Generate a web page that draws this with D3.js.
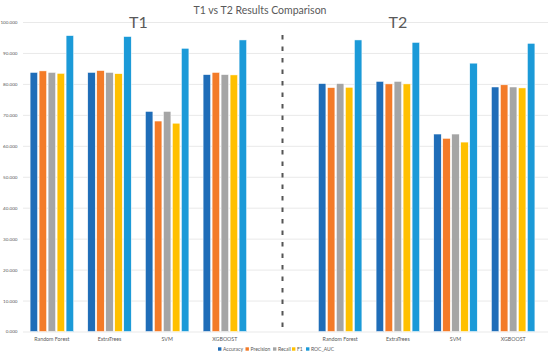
<!DOCTYPE html>
<html lang="en">
<head>
  <meta charset="UTF-8">
  <title>T1 vs T2 Results Comparison</title>
  <style>
  body { margin: 0; background: #fff; }
  text { font-family: Lato, "Open Sans", sans-serif; fill: #595959; }
  .grid line { stroke: #e9e9e9; stroke-width: 1px; }
</style>
</head>
<body>
  <script src="https://d3js.org/d3.v7.min.js"></script>
  <script>
categories = ["Random Forest", "ExtraTrees", "SVM", "XGBOOST"]
metrics = ["Accuracy", "Precision", "Recall", "F1", "ROC_AUC"]
colors = ["#1f6db8", "#f37b28", "#a5a5a5", "#ffc000", "#1b9ad8"]
yTicks = [0, 10, 20, 30, 40, 50, 60, 70, 80, 90, 100]

// T1 values, one array per metric (order of categories)
t1Accuracy  = [83.7, 83.7, 71.1, 83.0]
t1Precision = [84.2, 84.3, 68.0, 83.7]
t1Recall    = [83.7, 83.7, 71.1, 83.0]
t1F1        = [83.4, 83.3, 67.3, 82.9]
t1Roc       = [95.6, 95.3, 91.5, 94.2]

// T2 values
t2Accuracy  = [80.1, 80.8, 63.8, 79.0]
t2Precision = [78.8, 80.0, 62.4, 79.7]
t2Recall    = [80.1, 80.8, 63.8, 79.0]
t2F1        = [78.9, 80.0, 61.2, 78.7]
t2Roc       = [94.2, 93.4, 86.7, 93.1]

width = 550
height = 358
margin = ({top: 22, right: 8, bottom: 26.5, left: 23})

t1 = [t1Accuracy, t1Precision, t1Recall, t1F1, t1Roc]
t2 = [t2Accuracy, t2Precision, t2Recall, t2F1, t2Roc]

// 9 slots: 4 T1 groups, an empty slot, 4 T2 groups
slots = [...categories.map(c => "T1|" + c), "gap", ...categories.map(c => "T2|" + c)]
rows = []
categories.forEach((c, i) => {
  metrics.forEach((m, j) => {
    rows.push({slot: "T1|" + c, metric: m, value: t1[j][i]})
    rows.push({slot: "T2|" + c, metric: m, value: t2[j][i]})
  })
})

x = d3.scaleBand()
  .domain(slots)
  .range([margin.left, 542])
  .padding(0)

xInner = d3.scaleBand()
  .domain(metrics)
  .range([7.1, x.bandwidth() - 7.1])
  .paddingInner(0.17)

y = d3.scaleLinear()
  .domain([0, 100])
  .range([height - margin.bottom, margin.top])

color = d3.scaleOrdinal().domain(metrics).range(colors)

svg = d3.select("body").append("svg")
  .attr("width", width)
  .attr("height", height)

// gridlines + y labels
svg.append("g")
  .attr("class", "grid")
  .attr("transform", `translate(${margin.left},0)`)
  .call(d3.axisLeft(y).tickValues(yTicks).tickSize(-(548 - margin.left)).tickFormat(d3.format(".3f")).tickPadding(5.5))
  .call(g => g.select(".domain").remove())
  .call(g => g.selectAll("text").style("font-size", "4.6px").attr("fill", "#595959"))

// bars
svg.append("g")
  .selectAll("rect")
  .data(rows)
  .join("rect")
    .attr("x", d => x(d.slot) + xInner(d.metric))
    .attr("y", d => y(d.value))
    .attr("width", xInner.bandwidth())
    .attr("height", d => y(0) - y(d.value))
    .attr("fill", d => color(d.metric))
    .attr("stroke", "#ffffff")
    .attr("stroke-width", 0.5)

// category labels
svg.append("g")
  .attr("transform", `translate(0,${y(0)})`)
  .call(d3.axisBottom(x).tickSize(0).tickPadding(6).tickFormat(d => d === "gap" ? "" : d.split("|")[1]))
  .call(g => g.select(".domain").remove())
  .call(g => g.selectAll("text").style("font-size", "5.3px").attr("fill", "#595959"))

// dashed separator in the empty slot
gapX = x("gap") + x.bandwidth() / 2
svg.append("line")
  .attr("x1", gapX).attr("x2", gapX)
  .attr("y1", 35).attr("y2", y(0))
  .attr("stroke", "#555")
  .attr("stroke-width", 2)
  .attr("stroke-dasharray", "4.5,7")

// title + section labels
svg.append("text")
  .attr("x", 260).attr("y", 14)
  .attr("text-anchor", "middle")
  .style("font-size", "10.5px")
  .text("T1 vs T2 Results Comparison")

svg.append("text")
  .attr("x", (x("T1|ExtraTrees") + x("T1|SVM")) / 2 + x.bandwidth() / 2)
  .attr("y", 28)
  .attr("text-anchor", "middle")
  .style("font-size", "16px")
  .attr("fill", "#404040")
  .text("T1")

svg.append("text")
  .attr("x", x("T2|ExtraTrees") + x.bandwidth() / 2)
  .attr("y", 28)
  .attr("text-anchor", "middle")
  .style("font-size", "16px")
  .attr("fill", "#404040")
  .text("T2")

// legend
legend = svg.append("g")
  .attr("transform", "translate(218,349)")
legendX = [0, 27.5, 55, 74, 88]
metrics.forEach((m, i) => {
  const g = legend.append("g").attr("transform", `translate(${legendX[i]},0)`)
  g.append("rect").attr("x", 0).attr("y", -1.7).attr("width", 3.4).attr("height", 3.4).attr("fill", colors[i])
  g.append("text").attr("x", 5).attr("y", 1.8).style("font-size", "5px").text(m)
})
  </script>
</body>
</html>
